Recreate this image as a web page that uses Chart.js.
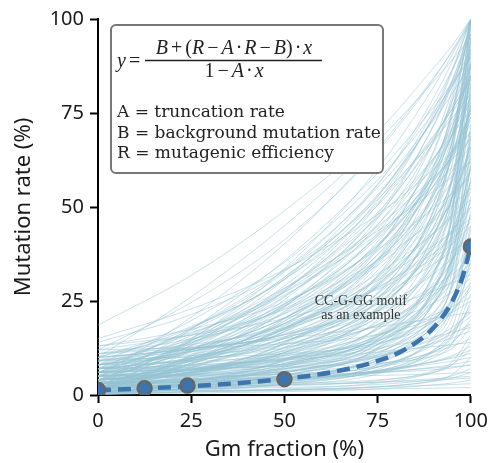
<!DOCTYPE html>
<html>
<head>
<meta charset="utf-8">
<script src="https://cdn.jsdelivr.net/npm/chart.js@4.4.1/dist/chart.umd.min.js"></script>
<style>
html, body { margin: 0; padding: 0; background: #fff; }
#wrap { width: 494px; height: 463px; }
</style>
</head>
<body>
<div id="wrap"><canvas id="chart"></canvas></div>
<script>
// x positions (Gm fraction, %) where each background curve was read
const curveX = [0, 25, 50, 75, 90, 95, 100];

// background curves, mutation rate (%) at curveX
const curveY = [
    [18.6, 31.8, 49, 70, 87, 93, 100],
    [10, 26.1, 45, 67.5, 83.4, 89.1, 95],
    [8, 19.8, 35.3, 57.2, 75.1, 82.3, 90],
    [12, 24.6, 41.3, 64.8, 84, 91.6, 100],
    [6, 14.6, 27.7, 50.6, 74.6, 86, 100],
    [4, 9.9, 19.7, 39.3, 64.4, 78.4, 98],
    [9, 14.7, 24.2, 43.1, 67.5, 81.1, 100],
    [3, 6.1, 11.8, 25.4, 49, 66.5, 100],
    [7, 9.8, 15, 27.3, 48.7, 64.6, 95],
    [2, 3.6, 6.7, 14.7, 32.4, 49.7, 100],
    [5, 6.4, 9.2, 16.3, 32, 47.4, 92],
    [14, 21.4, 33, 52.9, 73.9, 83.8, 96],
    [1, 8.6, 20.4, 40.8, 62.3, 72.4, 85],
    [5, 9.7, 17.6, 33.1, 53.2, 64.4, 80],
    [8, 10.4, 15, 25.8, 44.5, 58.5, 85],
    [3, 9.5, 19.6, 37.2, 55.6, 64.2, 75],
    [10, 12.2, 16.2, 25.7, 42.3, 54.6, 78],
    [0.5, 10.4, 23.6, 42.2, 57.4, 63.4, 70],
    [6, 7, 9.1, 14.3, 25.8, 37.2, 70],
    [4, 7.9, 14.2, 26.9, 43.2, 52.3, 65],
    [2, 7.3, 15.4, 29.5, 44.3, 51.4, 60],
    [11, 12.5, 15.5, 22.4, 34.2, 43.1, 60],
    [7, 13.9, 23, 35.8, 46.3, 50.5, 55],
    [1, 2.8, 5.9, 13.5, 26.6, 36.3, 55],
    [3, 5.9, 10.9, 20.6, 33.3, 40.2, 50],
    [9, 12.8, 18.5, 28.4, 38.9, 43.9, 50],
    [5, 5.6, 7, 10.2, 17.4, 24.5, 45],
    [2, 7.7, 15.3, 26, 34.8, 38.2, 42],
    [6, 8.1, 11.7, 18.8, 27.8, 32.9, 40],
    [0.5, 1.7, 3.9, 9.2, 18.3, 25.1, 38],
    [4, 6.8, 11.2, 18.7, 26.7, 30.4, 35],
    [8, 11.5, 16, 22.4, 27.7, 29.8, 32],
    [3, 3.5, 4.3, 6.5, 11.4, 16.1, 30],
    [1.5, 3.2, 5.9, 11.4, 18.5, 22.5, 28],
    [5, 6.8, 9.6, 14.5, 19.7, 22, 25],
    [10, 12.3, 15, 18.1, 20.4, 21.2, 22],
    [2, 2.5, 3.6, 6.1, 10.6, 13.8, 20],
    [4, 6, 8.7, 12.4, 15.4, 16.7, 18],
    [1, 2.3, 4.3, 7.6, 11.3, 12.9, 15],
    [6, 7.5, 9.3, 11.4, 12.9, 13.4, 14],
    [3, 3.6, 4.5, 6.4, 8.8, 10.1, 12],
    [0.5, 1.8, 3.6, 6.2, 8.3, 9, 10],
    [2, 3.1, 4.5, 6, 7.2, 7.5, 8],
    [1, 1.6, 2.4, 3.4, 4.3, 4.6, 5],
    [0.3, 0.8, 1.4, 2.1, 2.6, 2.8, 3],
    [1, 2.4, 5.3, 12.6, 28.6, 44.3, 90],
    [4, 6.6, 11.3, 22.7, 42.4, 57.1, 85],
    [2, 4.5, 9.1, 20, 39, 53.1, 80],
    [7, 12.1, 20.5, 37.4, 59.1, 71.2, 88],
    [3, 4.2, 6.4, 12, 24.4, 36.6, 72],
    [5, 7, 10.7, 19.5, 34.8, 46.2, 68],
    [0, 1, 3, 8.1, 19.2, 30.2, 62],
    [8, 14.1, 23.5, 39.8, 57, 65, 75],
    [2.5, 3.4, 5.2, 9.7, 19.7, 29.5, 58],
    [4, 5.6, 8.3, 15.1, 26.7, 35.5, 52],
    [6, 7.3, 9.9, 15.7, 26, 33.5, 48],
    [1, 3.7, 8.3, 17.5, 29.3, 35.8, 45],
    [3.5, 4, 5.1, 7.9, 14.2, 20.3, 38],
    [7, 7.9, 9.6, 13.5, 20.3, 25.3, 35],
    [2, 3, 4.8, 9.1, 16.7, 22.3, 33],
    [4.5, 4.8, 5.6, 7.4, 11.5, 15.4, 27],
    [1, 1.8, 3.1, 6.3, 11.9, 16, 24],
    [3, 4.2, 6.2, 10.1, 15.2, 18, 22],
    [5, 5.4, 6.2, 8.2, 11.6, 14.1, 19],
    [2, 2.3, 2.7, 3.8, 6.4, 8.8, 16],
    [0.5, 0.9, 1.6, 3.2, 6, 8.1, 12],
    [3, 3.5, 4.4, 5.9, 7.4, 8.1, 9],
    [1.5, 1.7, 2, 2.8, 4.1, 5.1, 7],
    [4, 4.3, 4.7, 5.2, 5.6, 5.8, 6],
    [9, 10.5, 13.4, 20.8, 37.2, 53.3, 100],
    [6, 8.9, 14.3, 27, 49.2, 65.6, 97],
    [1.5, 7.3, 17, 36.2, 60.9, 74.7, 94],
    [4, 5.2, 7.7, 14.2, 28.2, 42, 82],
    [11, 13.4, 18, 28.8, 47.5, 61.4, 88],
    [13, 17.5, 24.8, 39.6, 58.6, 69.2, 84],
    [0.5, 2.9, 7.4, 18, 36.3, 50, 76],
    [7, 7.9, 9.8, 14.4, 24.6, 34.8, 64],
    [2, 6, 12.7, 26, 43.1, 52.7, 66],
    [9.5, 10, 11, 13.8, 19.6, 25.4, 42],
    [12, 12.6, 13.6, 16.1, 20.5, 23.8, 30],
    [0.2, 0.5, 0.9, 1.6, 2.7, 3.2, 4],
    [1, 1.2, 1.5, 2.2, 3.8, 5.4, 10],
    [2.5, 2.7, 3.1, 4, 6, 8.1, 14],
    [3, 14.4, 30.7, 55.9, 79, 88.7, 100],
    [5, 9.6, 17.4, 34.5, 59.5, 75.3, 100],
    [1, 5.8, 13.9, 31.7, 57.8, 74.3, 100],
    [7, 17.6, 32.7, 56.1, 77.4, 86.5, 97],
    [2, 6.3, 13.8, 30.2, 54.3, 69.3, 93],
    [4, 11.9, 24.1, 45.2, 67.5, 78, 91],
    [6, 9.9, 16.8, 31.7, 53.7, 67.5, 89],
    [0.5, 10.7, 25.3, 47.6, 68.2, 77, 87],
    [3, 5.7, 10.5, 22.2, 42.4, 57.3, 86],
    [8, 11.6, 17.8, 31.2, 51, 63.5, 83],
    [2, 9.2, 20.2, 39.5, 59.6, 69.2, 81],
    [5, 13.7, 26.2, 45.4, 63, 70.4, 79],
    [1.5, 5.1, 11.3, 24.9, 44.8, 57.4, 77],
    [9, 12.1, 17.4, 29.1, 46.3, 57.1, 74],
    [4, 12.1, 23.8, 41.6, 58.1, 65, 73],
    [0, 3.4, 9.2, 22, 40.8, 52.5, 71],
    [6, 11.8, 20.5, 35.9, 52, 59.6, 69],
    [3, 6.1, 11.3, 22.9, 39.8, 50.4, 67],
    [1, 8.5, 19, 35.4, 50.3, 56.7, 64],
    [7, 9.7, 14.3, 24.3, 39.2, 48.4, 63],
    [2, 3.9, 7.4, 15.6, 30, 40.7, 61],
    [5, 11.4, 20.5, 34.5, 47.3, 52.8, 59],
    [0.5, 3.2, 7.8, 18, 32.9, 42.3, 57],
    [10, 12.2, 16, 24.3, 36.4, 44, 56],
    [3, 9, 17.5, 30.8, 43, 48, 54],
    [6, 6.8, 8.2, 12.1, 20.5, 28.9, 53],
    [1, 5.5, 12.6, 24.7, 37.5, 43.5, 51],
    [4, 6, 9.6, 17.4, 28.7, 35.8, 47],
    [8, 12.5, 18.9, 28.7, 37.7, 41.6, 46],
    [2, 2.7, 4, 7.4, 15, 22.4, 44],
    [0.5, 5.2, 12.1, 22.5, 32.2, 36.3, 41],
    [5, 6.7, 9.4, 15.6, 24.5, 30.2, 39],
    [3, 6.8, 12.4, 21, 28.9, 32.1, 36],
    [1, 2.6, 5.3, 11.2, 19.9, 25.5, 34],
    [7, 9.2, 12.6, 18.4, 24.5, 27.4, 31],
    [2.5, 3.8, 6, 10.7, 17.7, 22.2, 29],
    [4, 6.6, 10.3, 16, 21.3, 23.5, 26],
    [0.5, 1.6, 3.4, 7.4, 13.4, 17.1, 23],
    [6, 6.7, 7.9, 10.6, 14.7, 17.1, 21],
    [2, 3.8, 6.3, 10.2, 13.7, 15.2, 17],
    [3.5, 3.9, 4.7, 6.4, 9, 10.5, 13],
    [1, 2.2, 3.8, 6.5, 8.8, 9.8, 11],
    [5, 5.2, 5.4, 6, 6.7, 7.2, 8],
    [0.5, 0.8, 1.2, 2.2, 3.6, 4.5, 6],
    [2, 2.3, 2.7, 3.4, 3.9, 4.2, 4.5],
    [8, 10.9, 16.3, 29.1, 51.1, 67.6, 99],
    [2.5, 4, 7, 14.7, 31.5, 48.1, 96],
    [5, 20.7, 40.2, 65.5, 84.4, 91.4, 99],
    [0.5, 3.7, 9.5, 23.3, 47.2, 65, 99],
    [4, 5.4, 8.4, 15.9, 32.3, 48.4, 95],
    [11, 14.9, 21.6, 36.1, 57.5, 71, 92],
    [1, 2.4, 5.2, 12.3, 28, 43.4, 88],
    [6, 15.2, 28.3, 48.5, 67.1, 75, 84],
    [3, 4.3, 6.9, 13.4, 27.8, 41.9, 83],
    [0.5, 1.8, 4.3, 10.7, 24.8, 38.8, 79],
    [7, 9.3, 13.4, 23.2, 40.2, 52.8, 77],
    [4, 5, 7.1, 12.5, 24.2, 35.7, 69],
    [1.5, 2.6, 4.6, 9.9, 21.5, 32.9, 66],
    [8, 8.9, 10.5, 14.9, 24.4, 33.8, 61],
    [3, 4.7, 7.9, 15.5, 28.6, 38.3, 57],
    [0.5, 1.3, 2.9, 6.8, 15.5, 24.2, 49],
    [5, 6.1, 8.2, 13.3, 22, 28.6, 41],
    [1, 1.6, 2.7, 5.6, 11.9, 18, 36],
    [3, 3.4, 4.1, 5.9, 9.9, 13.7, 25],
    [7, 7.2, 7.6, 8.4, 10.4, 12.4, 18],
    [0, 1.7, 4.4, 9, 13.9, 16.2, 19],
    [1, 1.15, 1.3, 1.6, 1.8, 1.9, 2],
    [15, 22.9, 33.3, 48, 60, 64.8, 70],
    [13, 15.9, 20.4, 28.1, 36.4, 40.2, 45],
    [10, 18.2, 30.8, 52.7, 75.7, 86.6, 100],
    [2, 8.2, 18.4, 38.8, 65, 79.6, 100],
    [2, 15, 31.3, 52.1, 67.8, 73.7, 80],
    [6, 17.7, 33.3, 55.2, 73.1, 80.2, 88],
    [1, 12, 27.6, 51.7, 73.8, 83.2, 94],
    [4, 14.3, 28, 47.2, 62.9, 69.2, 76],
    [9, 17.9, 30.7, 50.4, 68.6, 76.1, 85],
    [3, 13.8, 27.4, 44.8, 57.9, 62.7, 68],
    [0.5, 14.7, 33.6, 60.2, 81.9, 90.5, 100],
    [5, 15.8, 28.4, 43.6, 54.2, 58.1, 62],
    [7, 17.1, 31.3, 53.3, 73.5, 82.1, 92],
    [2, 10.3, 22, 40.1, 56.8, 63.8, 72],
    [4, 13, 24.3, 38.7, 49.6, 53.6, 58],
    [1.5, 13.3, 29, 51, 69, 76.1, 84],
    [8, 16.3, 27.3, 42.8, 55.5, 60.5, 66],
    [3, 17.5, 35.7, 59, 76.5, 82.9, 90],
    [0, 9.2, 22.3, 42.5, 61.1, 69, 78],
    [5, 13.2, 26, 48.1, 71.5, 82.4, 96],
    [2.5, 9.5, 19, 32.2, 43, 47.3, 52],
    [6, 12.2, 21.7, 38.3, 55.6, 63.9, 74],
    [1, 9.8, 23.4, 47, 71.8, 83.5, 98],
    [10, 16.6, 26.6, 44.2, 62.6, 71.3, 82],
    [3, 8.4, 16.9, 31.5, 46.8, 54, 63],
    [0.5, 8.2, 17.9, 30.4, 39.8, 43.2, 47],
    [7, 11.5, 19.1, 35.8, 60.4, 75.8, 100],
    [4, 9.2, 17.8, 35.1, 57.3, 69.7, 87],
    [2, 6.2, 13.5, 29.6, 53.1, 67.8, 91],
    [12, 16, 22.7, 36, 53.2, 62.7, 76]
];

// highlighted CC-G-GG fit (dashed)
const fitX = [0, 12.5, 25, 37.5, 50, 62.5, 75, 82.5, 90, 95, 97.5, 100];
const fitY = [1.3, 1.76, 2.35, 3.15, 4.29, 6.04, 9.06, 12.2, 17.9, 24.9, 30.6, 39.5];

// measured points
const pointX = [0, 12.5, 24, 50, 100];
const pointY = [1.3, 1.8, 2.5, 4.2, 39.5];

const axisTicks = [0, 25, 50, 75, 100];

const legendLines = [
    'A = truncation rate',
    'B = background mutation rate',
    'R = mutagenic efficiency'
];
const noteLines = ['CC-G-GG motif', 'as an example'];

const sans = '"Noto Sans", sans-serif';
const textSerif = '"DejaVu Serif", serif';
const mathSerif = '"Liberation Serif", serif';
const fitColor = '#3e74ad';

function toPoints(xs, ys) {
    let pts = [];
    for (let i = 0; i < xs.length; i++) {
        pts.push({ x: xs[i], y: ys[i] });
    }
    return pts;
}

// draws a row of [text, italic, gap] pieces centred on cx
function drawPieces(ctx, pieces, cx, y, size) {
    let total = 0;
    let widths = [];
    for (const p of pieces) {
        ctx.font = (p[1] ? 'italic ' : '') + size + 'px ' + mathSerif;
        let w = ctx.measureText(p[0]).width;
        widths.push(w);
        total += w + 2 * (p[2] || 0);
    }
    let x = cx - total / 2;
    for (let i = 0; i < pieces.length; i++) {
        let p = pieces[i];
        ctx.font = (p[1] ? 'italic ' : '') + size + 'px ' + mathSerif;
        x += p[2] || 0;
        ctx.fillText(p[0], x, y);
        x += widths[i] + (p[2] || 0);
    }
}

const boxPlugin = {
    id: 'formulaBox',
    afterDatasetsDraw(chart) {
        const ctx = chart.ctx;
        const xs = chart.scales.x;
        const ys = chart.scales.y;
        ctx.save();

        // note on the plot
        ctx.fillStyle = '#333';
        ctx.font = '14px ' + mathSerif;
        ctx.textAlign = 'center';
        ctx.textBaseline = 'alphabetic';
        ctx.fillText(noteLines[0], xs.getPixelForValue(70.5), ys.getPixelForValue(23.9));
        ctx.fillText(noteLines[1], xs.getPixelForValue(70.5), ys.getPixelForValue(20.2));

        // box
        ctx.beginPath();
        ctx.roundRect(111, 25, 272, 148, 5);
        ctx.fillStyle = '#fff';
        ctx.fill();
        ctx.lineWidth = 2;
        ctx.strokeStyle = '#777';
        ctx.stroke();

        ctx.fillStyle = '#222';
        ctx.textAlign = 'left';
        // y =
        ctx.font = 'italic 20px ' + mathSerif;
        ctx.fillText('y', 117, 67);
        ctx.font = '20px ' + mathSerif;
        ctx.fillText('=', 129, 67);

        // fraction
        const num = [['B', 1, 0], ['+', 0, 3], ['(', 0, 0], ['R', 1, 0], ['\u2212', 0, 3], ['A', 1, 0],
            ['\u00b7', 0, 2], ['R', 1, 0], ['\u2212', 0, 3], ['B', 1, 0], [')', 0, 0], ['\u00b7', 0, 2], ['x', 1, 0]];
        const den = [['1', 0, 0], ['\u2212', 0, 3], ['A', 1, 0], ['\u00b7', 0, 2], ['x', 1, 0]];
        drawPieces(ctx, num, 234, 54, 20);
        drawPieces(ctx, den, 234, 77, 20);
        ctx.beginPath();
        ctx.moveTo(145, 60.5);
        ctx.lineTo(322, 60.5);
        ctx.lineWidth = 1.3;
        ctx.strokeStyle = '#222';
        ctx.stroke();

        ctx.font = '17px ' + textSerif;
        for (let i = 0; i < legendLines.length; i++) {
            ctx.fillText(legendLines[i], 117, 117 + i * 20.5);
        }
        ctx.restore();
    }
};

let dataSets = [];
dataSets.push({
    type: 'scatter',
    data: toPoints(pointX, pointY),
    backgroundColor: fitColor,
    borderColor: '#666',
    borderWidth: 2.5,
    pointRadius: 7,
    clip: 0
});
dataSets.push({
    type: 'line',
    data: toPoints(fitX, fitY),
    borderColor: fitColor,
    borderWidth: 4.5,
    borderDash: [13, 7],
    pointRadius: 0,
    fill: false,
    cubicInterpolationMode: 'monotone'
});
for (const ys of curveY) {
    dataSets.push({
        type: 'line',
        data: toPoints(curveX, ys),
        borderColor: 'rgba(150, 196, 212, 0.5)',
        borderWidth: 1,
        pointRadius: 0,
        fill: false,
        cubicInterpolationMode: 'monotone'
    });
}

function axis(title, isY) {
    return {
        type: 'linear',
        min: 0,
        max: 100,
        z: 1,
        afterBuildTicks: function (scale) {
            scale.ticks = axisTicks.map(v => ({ value: v }));
        },
        afterFit: function (scale) {
            if (isY) {
                scale.width = 98;
            } else {
                scale.height = 68;
            }
        },
        border: { display: true, color: '#000', width: 2 },
        grid: {
            drawOnChartArea: false,
            drawTicks: true,
            tickLength: 8,
            tickWidth: 2,
            tickColor: '#000'
        },
        ticks: {
            color: '#1a1a1a',
            padding: 6,
            font: { family: sans, size: 20 },
            maxRotation: 0
        },
        title: {
            display: true,
            text: title,
            color: '#1a1a1a',
            font: { family: sans, size: 22 },
            padding: isY ? { top: 11, bottom: 0 } : { top: 0, bottom: 0 }
        }
    };
}

new Chart(document.getElementById('chart').getContext('2d'), {
    data: { datasets: dataSets },
    options: {
        responsive: true,
        maintainAspectRatio: false,
        animation: false,
        layout: { padding: { top: 19, right: 22, left: 0, bottom: 0 } },
        plugins: {
            legend: { display: false },
            tooltip: { enabled: false }
        },
        scales: {
            x: axis('Gm fraction (%)', false),
            y: axis('Mutation rate (%)', true)
        }
    },
    plugins: [boxPlugin]
});
</script>
</body>
</html>
